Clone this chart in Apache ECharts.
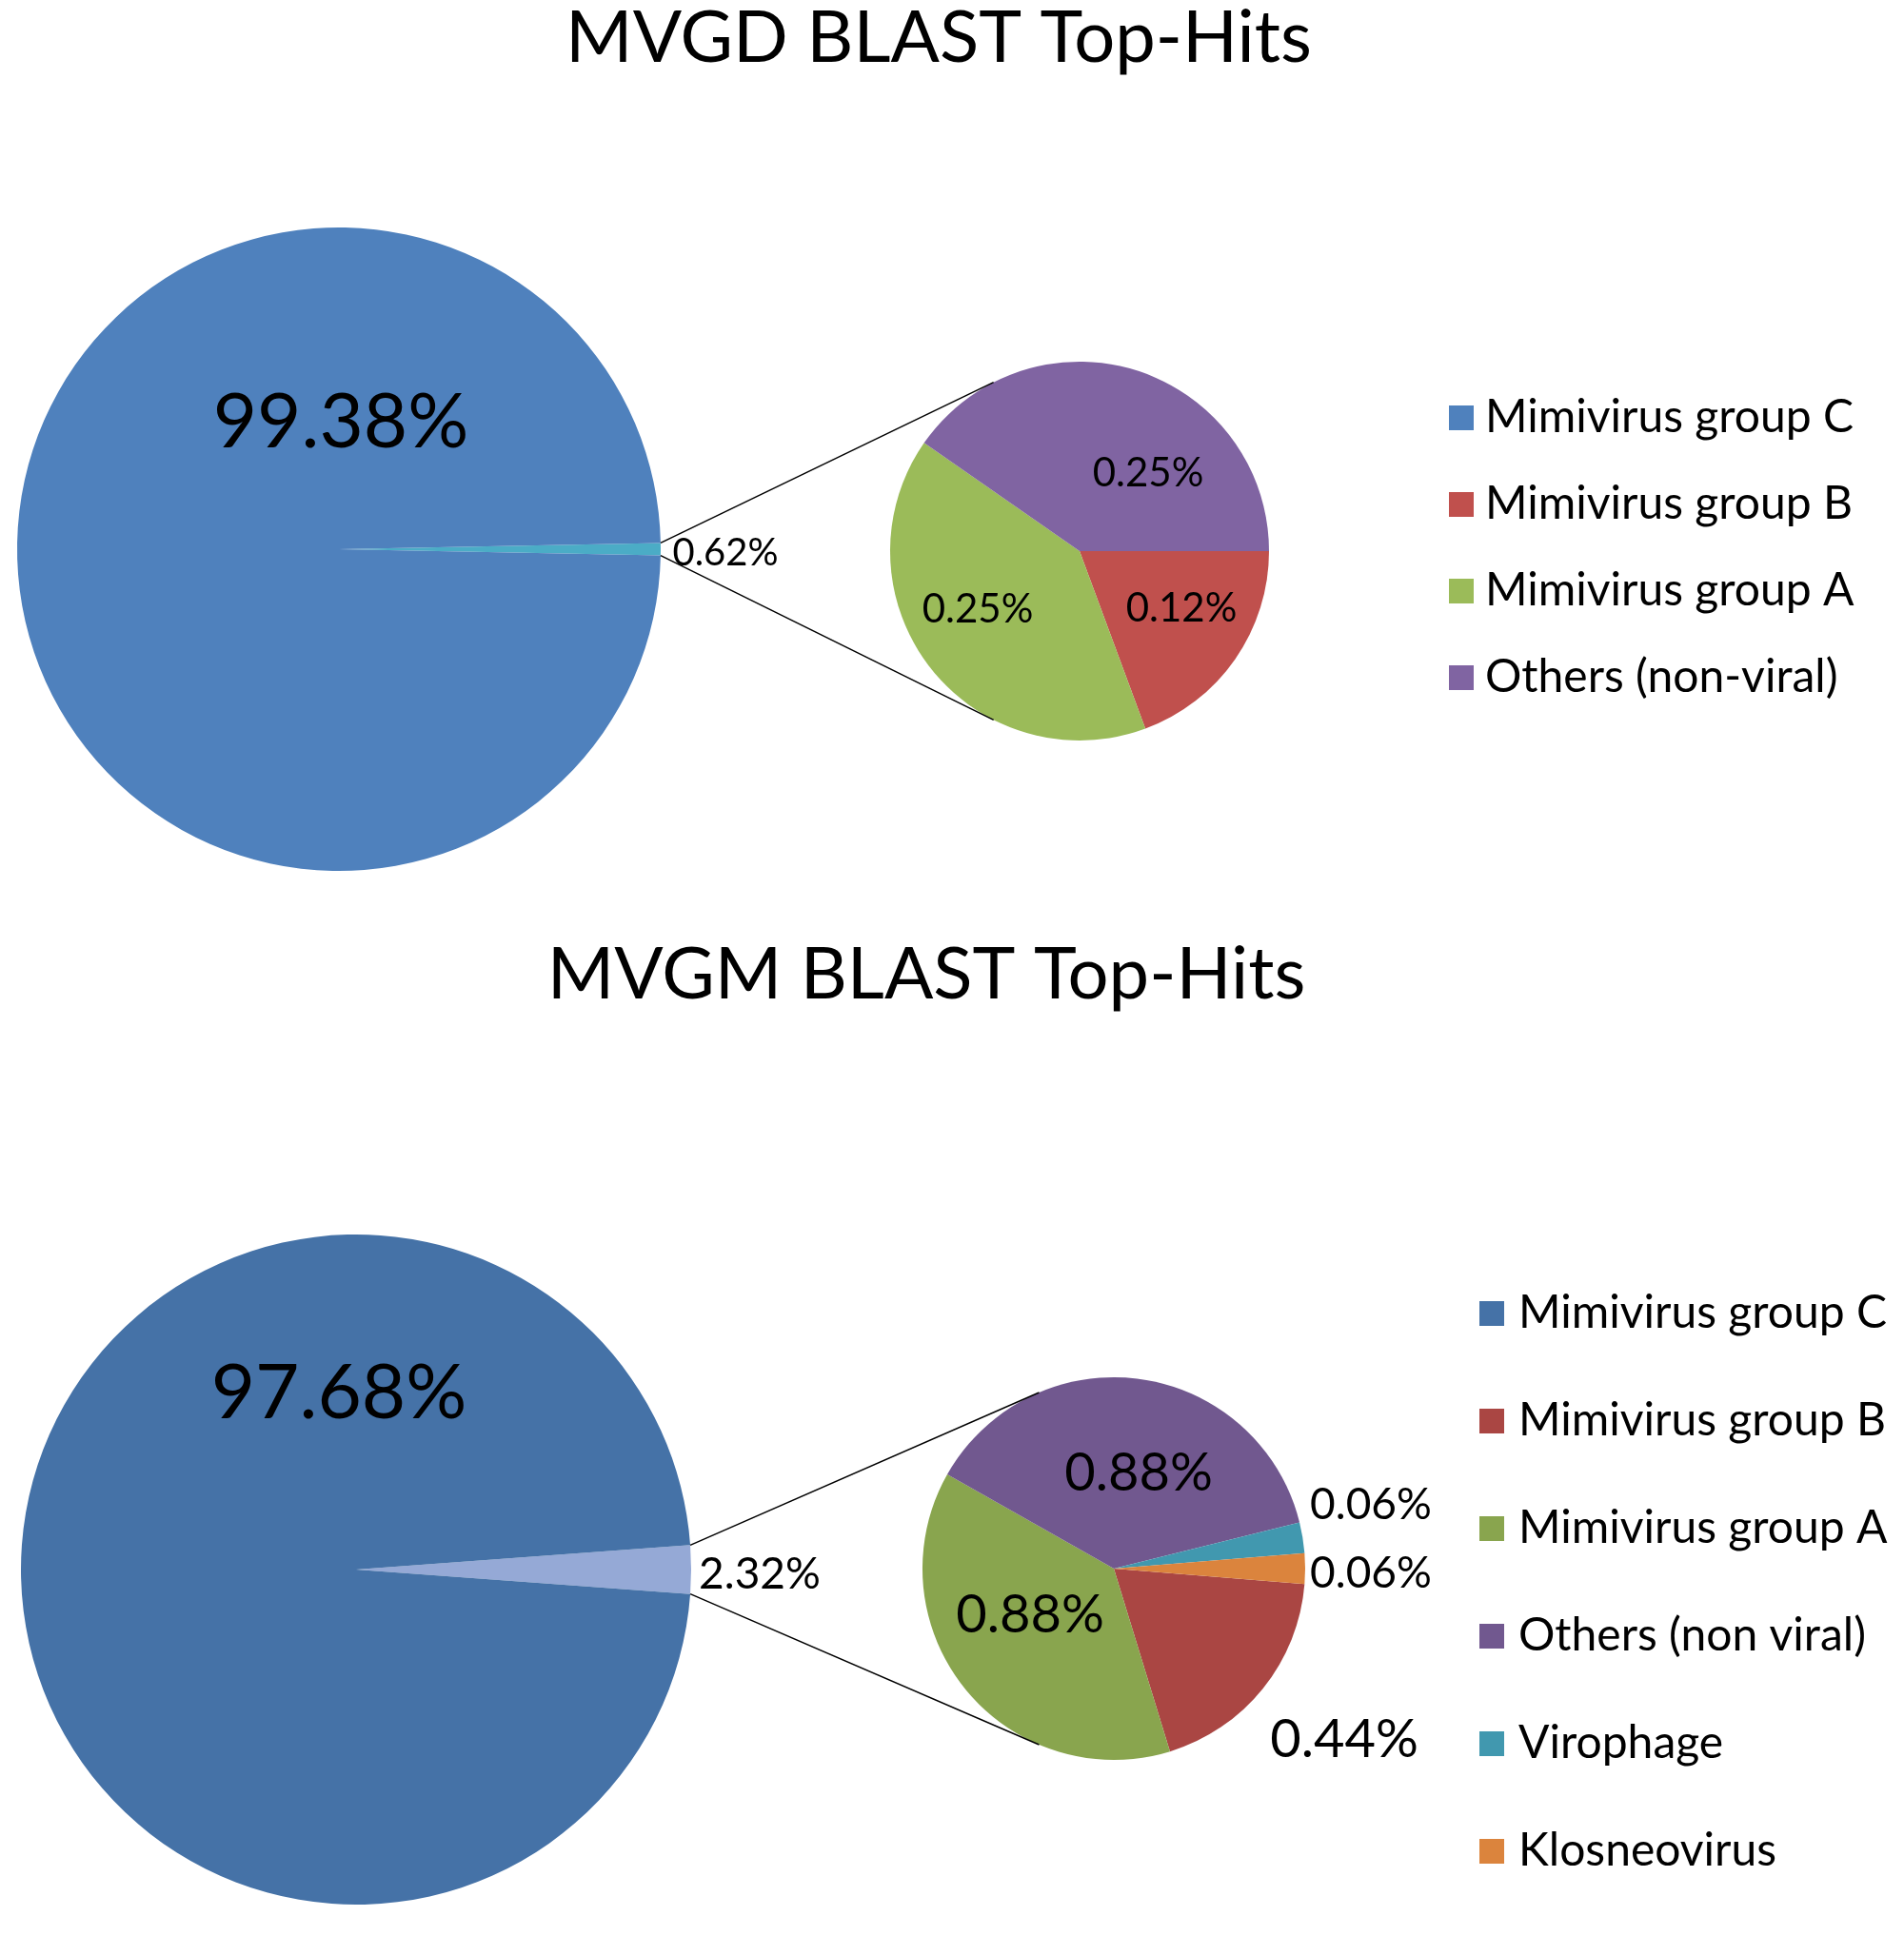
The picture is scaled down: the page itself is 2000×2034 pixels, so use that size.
<!DOCTYPE html>
<html>
<head>
<meta charset="utf-8">
<script src="https://cdn.jsdelivr.net/npm/echarts@6/dist/echarts.min.js"></script>
<style>
  html, body { margin: 0; padding: 0; background: #fff; }
  #top { position: absolute; left: 0; top: 0; width: 2000px; height: 980px; }
  #bottom { position: absolute; left: 0; top: 980px; width: 2000px; height: 1054px; }
</style>
</head>
<body>
<div id="top"></div>
<div id="bottom"></div>
<script>
// ---- data: MVGD ----
const mvgdTitle = 'MVGD BLAST Top-Hits';
const mvgdMainName = 'Mimivirus group C';
const mvgdMainValue = 99.38;
const mvgdSubNames = ['Mimivirus group B', 'Mimivirus group A', 'Others (non-viral)'];
const mvgdSubValues = [0.12, 0.25, 0.25];
const mvgdLegend = ['Mimivirus group C', 'Mimivirus group B', 'Mimivirus group A', 'Others (non-viral)'];

// ---- data: MVGM ----
const mvgmTitle = 'MVGM BLAST Top-Hits';
const mvgmMainName = 'Mimivirus group C';
const mvgmMainValue = 97.68;
const mvgmSubNames = ['Mimivirus group B', 'Mimivirus group A', 'Others (non viral)', 'Virophage', 'Klosneovirus'];
const mvgmSubValues = [0.44, 0.88, 0.88, 0.06, 0.06];
const mvgmLegend = ['Mimivirus group C', 'Mimivirus group B', 'Mimivirus group A', 'Others (non viral)', 'Virophage', 'Klosneovirus'];

const FONT = 'Lato';

function sum(a){ return a.reduce((s, v) => s + v, 0); }
function pct(v){ return v.toFixed(2) + '%'; }

// cfg holds positions / colours only
function drawPieOfPie(domId, d, cfg){
    let chart = echarts.init(document.getElementById(domId));
    let otherTotal = sum(d.subValues);
    let half = otherTotal / (otherTotal + d.mainValue) * 360 / 2;
    let rad = half * Math.PI / 180;
    // connector lines from the aggregated wedge to the secondary pie
    let ax = cfg.main.cx + cfg.main.r * Math.cos(rad);
    let ayTop = cfg.main.cy - cfg.main.r * Math.sin(rad);
    let ayBot = cfg.main.cy + cfg.main.r * Math.sin(rad);
    let ta = cfg.sub.joinAngle * Math.PI / 180;
    let bx = cfg.sub.cx + cfg.sub.r * Math.cos(ta);
    let byTop = cfg.sub.cy - cfg.sub.r * Math.sin(ta);
    let byBot = cfg.sub.cy + cfg.sub.r * Math.sin(ta);

    let subStart = cfg.sub.centerLast
        ? -(d.subValues[d.subValues.length - 1] / otherTotal * 360) / 2
        : 0;

    let option = {
        animation: false,
        backgroundColor: '#fff',
        title: {
            text: d.title,
            left: cfg.titleX,
            top: cfg.titleY,
            textAlign: 'center',
            padding: 0,
            textStyle: { fontFamily: FONT, fontSize: 76, fontWeight: 'normal', color: '#000' }
        },
        legend: {
            data: d.legend,
            orient: 'vertical',
            left: cfg.legend.left,
            top: cfg.legend.top,
            itemWidth: 26,
            itemHeight: 26,
            itemGap: cfg.legend.gap,
            icon: 'rect',
            selectedMode: false,
            textStyle: { fontFamily: FONT, fontSize: 48, color: '#000', lineHeight: 50, padding: [0, 0, 0, cfg.legend.pad] }
        },
        series: [
            {
                type: 'pie',
                center: [cfg.main.cx, cfg.main.cy],
                radius: cfg.main.r,
                startAngle: half,
                clockwise: true,
                data: [
                    { name: 'Other', value: otherTotal, itemStyle: { color: cfg.colors.other } },
                    { name: d.mainName, value: d.mainValue, itemStyle: { color: cfg.colors.main } }
                ],
                label: {
                    show: true,
                    position: 'inside',
                    formatter: p => pct(p.value),
                    fontFamily: FONT,
                    color: '#000'
                },
                labelLine: { show: false },
                labelLayout: function(p){
                    let o = cfg.main.labels[p.dataIndex];
                    return { x: cfg.main.cx + o[0], y: cfg.main.cy + o[1], align: 'center', verticalAlign: 'middle', fontSize: o[2] };
                },
                emphasis: { disabled: true }
            },
            {
                type: 'pie',
                center: [cfg.sub.cx, cfg.sub.cy],
                radius: cfg.sub.r,
                startAngle: subStart,
                clockwise: true,
                data: d.subNames.map((n, i) => ({ name: n, value: d.subValues[i], itemStyle: { color: cfg.colors.sub[i] } })),
                label: {
                    show: true,
                    position: 'inside',
                    formatter: p => pct(p.value),
                    fontFamily: FONT,
                    color: '#000'
                },
                labelLine: { show: false },
                labelLayout: function(p){
                    let o = cfg.sub.labels[p.dataIndex];
                    return { x: cfg.sub.cx + o[0], y: cfg.sub.cy + o[1], align: 'center', verticalAlign: 'middle', fontSize: o[2] };
                },
                emphasis: { disabled: true }
            }
        ],
        graphic: [
            { type: 'line', shape: { x1: ax, y1: ayTop, x2: bx, y2: byTop }, style: { stroke: '#000', lineWidth: 1.5 }, z: 10 },
            { type: 'line', shape: { x1: ax, y1: ayBot, x2: bx, y2: byBot }, style: { stroke: '#000', lineWidth: 1.5 }, z: 10 }
        ]
    };
    chart.setOption(option);
    window.addEventListener('resize', function(){ chart.resize(); });
}

drawPieOfPie('top', {
    title: mvgdTitle, mainName: mvgdMainName, mainValue: mvgdMainValue,
    subNames: mvgdSubNames, subValues: mvgdSubValues, legend: mvgdLegend
}, {
    titleX: 986, titleY: 2,
    main: { cx: 356, cy: 577, r: 338, labels: [[406, 4, 40], [2, -133, 80]] },
    sub: { cx: 1134, cy: 579, r: 199, joinAngle: 117, centerLast: false,
           labels: [[107, 60, 42], [-107, 61, 42], [72, -82, 42]] },
    legend: { left: 1517, top: 409, gap: 41, pad: 7 },
    colors: { main: '#4f81bd', other: '#4bacc6', sub: ['#c0504d', '#9bbb59', '#8064a2'] }
});

drawPieOfPie('bottom', {
    title: mvgmTitle, mainName: mvgmMainName, mainValue: mvgmMainValue,
    subNames: mvgmSubNames, subValues: mvgmSubValues, legend: mvgmLegend
}, {
    titleX: 973, titleY: 6,
    main: { cx: 374, cy: 669, r: 352, labels: [[424, 5, 46], [-18, -185, 80]] },
    sub: { cx: 1170, cy: 668, r: 201, joinAngle: 113, centerLast: true,
           labels: [[242, 180, 56], [-88, 49, 56], [26, -100, 56], [270, -67, 46], [270, 5, 46]] },
    legend: { left: 1549, top: 370, gap: 63, pad: 10 },
    colors: { main: '#4572a7', other: '#95a9d6', sub: ['#aa4643', '#89a54e', '#71588f', '#4198af', '#db843d'] }
});
</script>
</body>
</html>
